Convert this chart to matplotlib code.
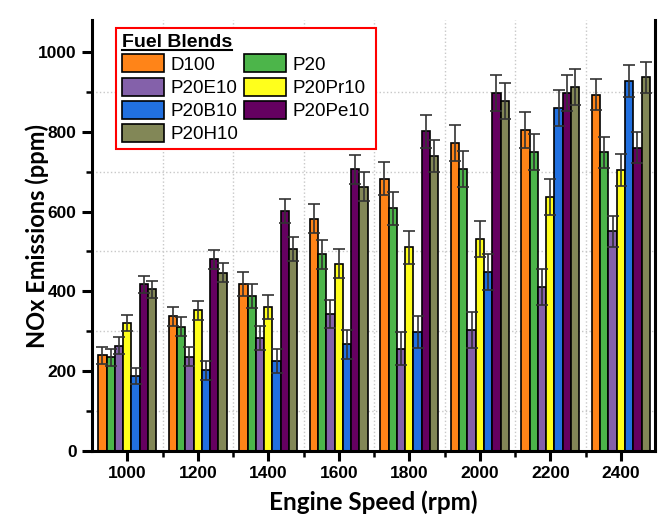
import numpy as np
import matplotlib.pyplot as plt
from matplotlib.patches import Patch
from matplotlib.lines import Line2D

speeds = [1000, 1200, 1400, 1600, 1800, 2000, 2200, 2400]
blends = ["D100", "P20", "P20E10", "P20Pr10", "P20B10", "P20Pe10", "P20H10"]
colors = ["#FF8418", "#4CB54A", "#8461AA", "#FFFF1C", "#2170E0", "#650060", "#828757"]

# NOx values (ppm) per blend, one value per engine speed
d100 = [240, 338, 418, 582, 682, 772, 804, 893]
p20 = [235, 311, 389, 493, 608, 706, 749, 749]
p20e10 = [264, 236, 282, 343, 256, 304, 410, 551]
p20pr10 = [321, 353, 360, 469, 510, 531, 636, 704]
p20b10 = [188, 202, 226, 267, 298, 449, 859, 927]
p20pe10 = [418, 480, 601, 706, 801, 898, 898, 760]
p20h10 = [405, 447, 506, 662, 739, 876, 912, 936]

# error (ppm) per engine speed
err = [21, 24, 30, 36, 41, 45, 45, 39]

values = [d100, p20, p20e10, p20pr10, p20b10, p20pe10, p20h10]

fig = plt.figure(figsize=(6.64, 5.15), dpi=100)
ax = fig.add_axes([92/664, 1-451/515, (655-92)/664, (451-20)/515])

w = 23.5
x = np.array(speeds)
for i in range(len(blends)):
    pos = x + (i - 3) * w
    ax.bar(pos, values[i], width=w, color=colors[i], edgecolor="black",
           linewidth=1.2, zorder=2, label=blends[i])
    ax.errorbar(pos, values[i], yerr=err, fmt="none", ecolor="#333333",
                elinewidth=1.2, capsize=4, capthick=1.2, zorder=3)

ax.set_xlim(900, 2497)
ax.set_ylim(0, 1080)
ax.set_xticks(speeds)
ax.set_xticks(np.arange(1100, 2500, 200), minor=True)
ax.set_yticks(np.arange(0, 1001, 200))
ax.set_yticks(np.arange(100, 1001, 200), minor=True)
ax.grid(which="minor", linestyle=":", color="#c8c8c8", linewidth=1.0, zorder=0)
ax.set_axisbelow(True)

for lab in ax.get_xticklabels() + ax.get_yticklabels():
    lab.set_fontfamily("Liberation Sans")
    lab.set_fontweight("bold")
    lab.set_fontsize(12.5)
ax.tick_params(which="major", direction="out", length=7, width=2.2, pad=4)
ax.tick_params(which="minor", direction="out", length=4, width=1.8)

ax.spines["top"].set_visible(False)
for s in ["left", "bottom", "right"]:
    ax.spines[s].set_linewidth(2.2)

ax.set_xlabel("Engine Speed (rpm)", fontfamily="Lato", fontweight="bold", fontsize=17.5)
ax.set_ylabel("NOx Emissions (ppm)", fontfamily="Lato", fontweight="bold", fontsize=17)
ax.xaxis.set_label_coords(0.5, -(490 - 451) / 431)
ax.yaxis.set_label_coords(-(92 - 49) / 563, 0.5)

# legend is row-major in the picture, matplotlib fills columns first
order = [0, 2, 4, 6, 1, 3, 5]
handles = [Patch(facecolor=colors[i], edgecolor="black", linewidth=1.2) for i in order]
labels = [blends[i] for i in order]
leg = ax.legend(handles, labels, ncol=2, loc="upper left",
                bbox_to_anchor=(116/664, 1-28/515), bbox_transform=fig.transFigure,
                borderaxespad=0, prop={"family": "Liberation Sans", "size": 13.5},
                title="Fuel Blends", title_fontproperties={"family": "Liberation Sans",
                                                           "weight": "bold", "size": 14},
                alignment="left", fancybox=False, framealpha=1, edgecolor="red",
                handlelength=2.25, handleheight=1.1, handletextpad=0.35,
                labelspacing=0.2, columnspacing=0.3, borderpad=0.3)
leg.get_frame().set_linewidth(1.5)

# underline the legend title
fig.canvas.draw()
bb = leg.get_title().get_window_extent(fig.canvas.get_renderer())
fig.add_artist(Line2D([bb.x0 / 664, bb.x1 / 664], [(bb.y0 + 1) / 515, (bb.y0 + 1) / 515],
                      transform=fig.transFigure, color="black", linewidth=1.5))

fig.savefig("out.png", dpi=100)
